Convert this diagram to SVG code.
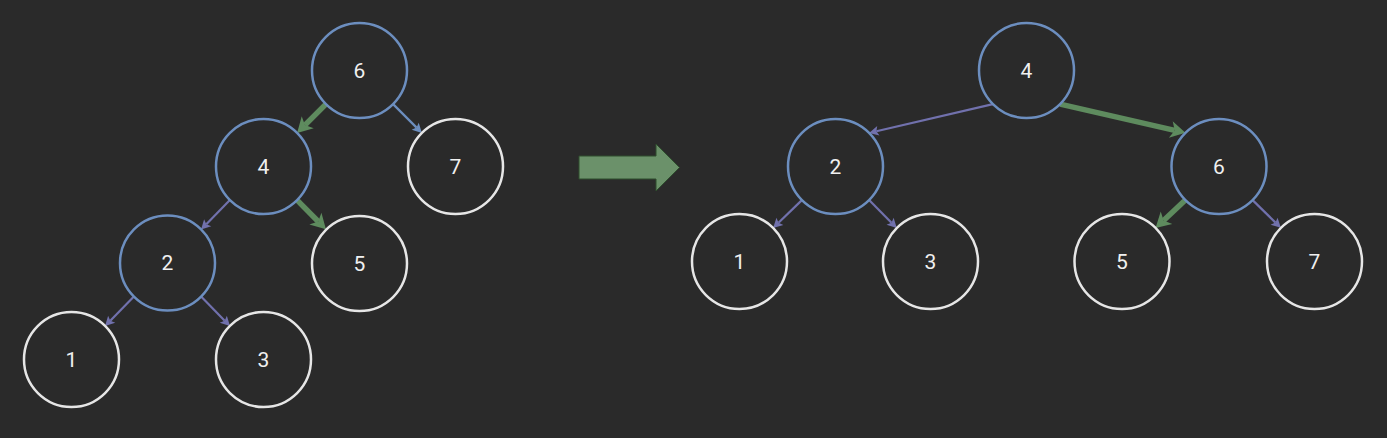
<svg xmlns="http://www.w3.org/2000/svg" width="1387" height="438" viewBox="0 0 1387 438">
<style>
.bg{fill:#2a2a2a}
.nb{fill:#2a2a2a;stroke:#6c8ebf;stroke-width:2.5}
.nw{fill:#2a2a2a;stroke:#e6e6e6;stroke-width:2.5}
.t{font-family:Roboto,"Liberation Sans",sans-serif;font-size:21px;fill:#f0f0f0;text-anchor:middle;dominant-baseline:central}
.ep{fill:none;stroke:#7171ad;stroke-width:2.2}
.eb{fill:none;stroke:#6c8ebf;stroke-width:2.2}
.eg{fill:none;stroke:#5e8b5e;stroke-width:5.5}
</style>
<defs>
<marker id="mp" markerUnits="userSpaceOnUse" orient="auto" markerWidth="12" markerHeight="12" refX="2" refY="0" viewBox="0 -6 12 12" overflow="visible"><path d="M0,-5 L9.5,0 L0,5 L2,0 Z" fill="#7171ad"/></marker>
<marker id="mb" markerUnits="userSpaceOnUse" orient="auto" markerWidth="12" markerHeight="12" refX="2" refY="0" viewBox="0 -6 12 12" overflow="visible"><path d="M0,-5 L9.5,0 L0,5 L2,0 Z" fill="#6c8ebf"/></marker>
<marker id="mg" markerUnits="userSpaceOnUse" orient="auto" markerWidth="18" markerHeight="20" refX="4" refY="0" viewBox="0 -10 18 20" overflow="visible"><path d="M0,-8.5 L15,0 L0,8.5 L4,0 Z" fill="#5e8b5e"/></marker>
</defs>
<rect class="bg" x="0" y="0" width="1387" height="438"/>
<g id="connectors">
<line class="eg" x1="325.9" y1="104.1" x2="304.9" y2="125.1" marker-end="url(#mg)"/>
<line class="eb" x1="393.1" y1="104.1" x2="416.6" y2="127.6" marker-end="url(#mb)"/>
<line class="ep" x1="229.9" y1="200.1" x2="206.3" y2="224.2" marker-end="url(#mp)"/>
<line class="eg" x1="297.1" y1="200.1" x2="318.2" y2="221.5" marker-end="url(#mg)"/>
<line class="ep" x1="133.9" y1="296.6" x2="110.3" y2="320.7" marker-end="url(#mp)"/>
<line class="ep" x1="201.1" y1="296.6" x2="224.7" y2="320.7" marker-end="url(#mp)"/>
<line class="ep" x1="992.9" y1="104.1" x2="876.4" y2="131.2" marker-end="url(#mp)"/>
<line class="eg" x1="1060.1" y1="104.1" x2="1174.7" y2="130.4" marker-end="url(#mg)"/>
<line class="ep" x1="801.9" y1="200.1" x2="778.5" y2="222.7" marker-end="url(#mp)"/>
<line class="ep" x1="869.1" y1="200.1" x2="891.5" y2="222.7" marker-end="url(#mp)"/>
<line class="eg" x1="1185.4" y1="200.1" x2="1163.6" y2="220.4" marker-end="url(#mg)"/>
<line class="ep" x1="1252.6" y1="200.1" x2="1275.5" y2="222.6" marker-end="url(#mp)"/>
</g>
<g id="transform-arrow">
<path d="M579,156 L656,156 L656,144 L679.5,167.5 L656,191 L656,179 L579,179 Z" fill="#6b916a" stroke="#2e4d2d" stroke-width="1"/>
</g>
<g id="L6"><circle class="nb" cx="359.5" cy="70.5" r="47.5"/><text class="t" x="359.5" y="70.5">6</text></g>
<g id="L4"><circle class="nb" cx="263.5" cy="166.5" r="47.5"/><text class="t" x="263.5" y="166.5">4</text></g>
<g id="L7"><circle class="nw" cx="455.5" cy="166.5" r="47.5"/><text class="t" x="455.5" y="166.5">7</text></g>
<g id="L2"><circle class="nb" cx="167.5" cy="263" r="47.5"/><text class="t" x="167.5" y="263">2</text></g>
<g id="L5"><circle class="nw" cx="359.5" cy="263.5" r="47.5"/><text class="t" x="359.5" y="263.5">5</text></g>
<g id="L1"><circle class="nw" cx="71.5" cy="359.5" r="47.5"/><text class="t" x="71.5" y="359.5">1</text></g>
<g id="L3"><circle class="nw" cx="263.5" cy="359.5" r="47.5"/><text class="t" x="263.5" y="359.5">3</text></g>
<g id="R4"><circle class="nb" cx="1026.5" cy="70.5" r="47.5"/><text class="t" x="1026.5" y="70.5">4</text></g>
<g id="R2"><circle class="nb" cx="835.5" cy="166.5" r="47.5"/><text class="t" x="835.5" y="166.5">2</text></g>
<g id="R6"><circle class="nb" cx="1219" cy="166.5" r="47.5"/><text class="t" x="1219" y="166.5">6</text></g>
<g id="R1"><circle class="nw" cx="739.5" cy="261.5" r="47.5"/><text class="t" x="739.5" y="261.5">1</text></g>
<g id="R3"><circle class="nw" cx="930.5" cy="261.5" r="47.5"/><text class="t" x="930.5" y="261.5">3</text></g>
<g id="R5"><circle class="nw" cx="1122" cy="261.5" r="47.5"/><text class="t" x="1122" y="261.5">5</text></g>
<g id="R7"><circle class="nw" cx="1314.5" cy="261.5" r="47.5"/><text class="t" x="1314.5" y="261.5">7</text></g>
</svg>
